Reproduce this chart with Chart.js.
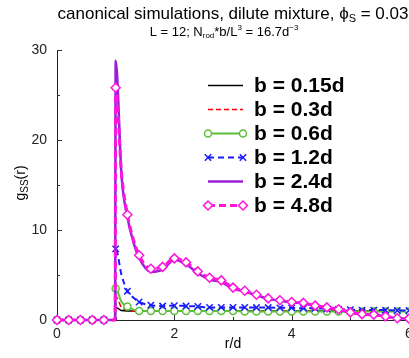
<!DOCTYPE html>
<html>
<head>
<meta charset="utf-8">
<script src="https://cdn.jsdelivr.net/npm/chart.js@4/dist/chart.umd.min.js"></script>
<style>
html,body{margin:0;padding:0;background:#fff;overflow:hidden;}
#wrap{width:409px;height:358px;position:relative;}
</style>
</head>
<body>
<div id="wrap"><canvas id="c" width="409" height="358"></canvas></div>
<script>
// ---- data ----
const r = [0, 0.2, 0.4, 0.6, 0.8, 0.99, 1.0, 1.1, 1.2, 1.3, 1.4, 1.6, 1.8, 2.0, 2.2, 2.4, 2.6, 2.8, 3.0, 3.2, 3.4, 3.6, 3.8, 4.0, 4.2, 4.4, 4.6, 4.8, 5.0, 5.2, 5.4, 5.6, 5.8, 6.0];
const g015 = [0, 0, 0, 0, 0, 0, 1.4, 1.05, 1.0, 1.0, 1.0, 1.0, 1.0, 1.0, 1.0, 1.0, 1.0, 1.0, 1.0, 1.0, 1.0, 1.0, 1.0, 1.0, 1.0, 1.0, 1.0, 1.0, 1.0, 1.0, 1.0, 1.0, 1.0, 1.0];
const g03  = [0, 0, 0, 0, 0, 0, 2.6, 1.4, 1.1, 1.0, 1.0, 1.0, 1.0, 1.0, 1.0, 1.0, 1.0, 1.0, 1.0, 1.0, 1.0, 1.0, 1.0, 1.0, 1.0, 1.0, 1.0, 1.0, 1.0, 1.0, 1.0, 1.0, 1.0, 1.0];
const g06  = [0, 0, 0, 0, 0, 0, 3.5, 2.0, 1.5, 1.15, 1.0, 1.0, 1.0, 1.0, 1.0, 1.0, 1.0, 1.0, 1.0, 0.95, 0.95, 0.95, 0.95, 0.95, 0.95, 0.95, 0.95, 0.95, 0.95, 0.95, 0.95, 0.95, 0.95, 0.95];
const g12  = [0, 0, 0, 0, 0, 0, 7.9, 5.0, 3.2, 2.5, 2.0, 1.65, 1.55, 1.6, 1.55, 1.5, 1.4, 1.4, 1.4, 1.4, 1.38, 1.38, 1.35, 1.35, 1.3, 1.3, 1.25, 1.2, 1.15, 1.1, 1.1, 1.1, 1.05, 1.05];
const g24  = [0, 0, 0, 0, 0, 0, 28.8, 16.0, 11.4, 8.7, 6.9, 5.35, 5.6, 6.7, 6.2, 5.2, 4.5, 4.2, 3.5, 3.15, 2.75, 2.35, 2.15, 1.95, 1.85, 1.55, 1.35, 1.15, 0.85, 0.65, 0.55, 0.4, 0.2, 0.15];
const g48  = [0, 0, 0, 0, 0, 0, 25.8, 16.3, 11.7, 9.0, 7.2, 5.7, 5.9, 6.85, 6.4, 5.4, 4.7, 4.4, 3.6, 3.25, 2.8, 2.4, 2.2, 2.0, 1.9, 1.6, 1.4, 1.2, 0.85, 0.65, 0.6, 0.4, 0.2, 0.15];
const markerAt = [1, 1, 1, 1, 1, 0, 1, 0, 1, 0, 1, 1, 1, 1, 1, 1, 1, 1, 1, 1, 1, 1, 1, 1, 1, 1, 1, 1, 1, 1, 1, 1, 1, 1];
const seriesLabels = ["b = 0.15d", "b = 0.3d", "b = 0.6d", "b = 1.2d", "b = 2.4d", "b = 4.8d"];
const xTickValues = [0, 2, 4, 6];
const yTickValues = [0, 10, 20, 30];

const FONT = '"Liberation Sans", Arial, Helvetica, sans-serif';

function pts(arr){ return r.map((x,i)=>({x:x, y:arr[i]})); }
function radii(rad){ return markerAt.map(m => m ? rad : 0); }

const styles = [
  {color:'#000000', width:1.5, dash:[], style:false, rad:0},
  {color:'#ff0000', width:1.5, dash:[5,3], style:false, rad:0},
  {color:'#5cbf3a', width:2, dash:[], style:'circle', rad:3.5},
  {color:'#1a1aff', width:2, dash:[6,4], style:'crossRot', rad:4.5},
  {color:'#9a1fd6', width:2.5, dash:[], style:false, rad:0},
  {color:'#ff14dc', width:3, dash:[7,4], style:'rectRot', rad:4.5}
];
const seriesData = [g015, g03, g06, g12, g24, g48];

const datasets = seriesData.map((arr,i)=>{
  const s = styles[i];
  return {
    label: seriesLabels[i],
    data: pts(arr),
    borderColor: s.color,
    borderWidth: s.width,
    borderDash: s.dash,
    backgroundColor: '#ffffff',
    pointStyle: s.style || 'circle',
    pointRadius: s.style ? radii(s.rad) : 0,
    pointBorderColor: s.color,
    pointBackgroundColor: '#ffffff',
    pointBorderWidth: 1.5,
    cubicInterpolationMode: 'monotone',
    fill: false,
    clip: 8,
    order: 5 - i
  };
});

function drawRich(ctx, parts, x, y, align){
  let w = 0;
  parts.forEach(p=>{ ctx.font = (p.bold?'bold ':'') + p.size + 'px ' + FONT; w += ctx.measureText(p.t).width; });
  let cx = align === 'center' ? x - w/2 : x;
  ctx.textBaseline = 'alphabetic';
  ctx.textAlign = 'left';
  parts.forEach(p=>{
    ctx.font = (p.bold?'bold ':'') + p.size + 'px ' + FONT;
    ctx.fillText(p.t, cx, y + (p.dy||0));
    cx += ctx.measureText(p.t).width;
  });
}

function drawMarker(ctx, style, x, y, rad, color){
  ctx.save();
  ctx.setLineDash([]);
  ctx.lineWidth = 1.5;
  ctx.strokeStyle = color;
  ctx.fillStyle = '#ffffff';
  ctx.beginPath();
  if (style === 'circle') {
    ctx.arc(x, y, rad, 0, Math.PI*2);
    ctx.fill(); ctx.stroke();
  } else if (style === 'rectRot') {
    ctx.moveTo(x, y-rad); ctx.lineTo(x+rad, y); ctx.lineTo(x, y+rad); ctx.lineTo(x-rad, y); ctx.closePath();
    ctx.fill(); ctx.stroke();
  } else if (style === 'crossRot') {
    const d = rad*Math.SQRT1_2;
    ctx.moveTo(x-d, y-d); ctx.lineTo(x+d, y+d);
    ctx.moveTo(x+d, y-d); ctx.lineTo(x-d, y+d);
    ctx.stroke();
  }
  ctx.restore();
}

const decor = {
  id: 'decor',
  beforeDatasetsDraw(chart){
    const ctx = chart.ctx, xs = chart.scales.x, ys = chart.scales.y;
    const a = chart.chartArea;
    ctx.save();
    ctx.strokeStyle = '#333';
    ctx.lineWidth = 1;
    ctx.setLineDash([]);
    const xt = xs.ticks.map(t=>t.value);
    xt.forEach((v,i)=>{
      const px = Math.round(xs.getPixelForValue(v)) + 0.5;
      ctx.beginPath(); ctx.moveTo(px, a.bottom); ctx.lineTo(px, a.bottom-5); ctx.stroke();
      if (i < xt.length-1) {
        const pm = Math.round(xs.getPixelForValue((v + xt[i+1])/2)) + 0.5;
        ctx.beginPath(); ctx.moveTo(pm, a.bottom); ctx.lineTo(pm, a.bottom-3); ctx.stroke();
      }
    });
    const yt = ys.ticks.map(t=>t.value);
    yt.forEach((v,i)=>{
      const py = Math.round(ys.getPixelForValue(v)) + 0.5;
      ctx.beginPath(); ctx.moveTo(a.left, py); ctx.lineTo(a.left+5, py); ctx.stroke();
      if (i < yt.length-1) {
        const pm = Math.round(ys.getPixelForValue((v + yt[i+1])/2)) + 0.5;
        ctx.beginPath(); ctx.moveTo(a.left, pm); ctx.lineTo(a.left+3, pm); ctx.stroke();
      }
    });
    ctx.restore();
  },
  afterDraw(chart){
    const ctx = chart.ctx;
    ctx.save();
    ctx.fillStyle = '#000';
    // title
    drawRich(ctx, [
      {t:'canonical simulations, dilute mixture, \u03D5', size:17},
      {t:'S', size:11, dy:3},
      {t:' = 0.03', size:17}
    ], 233, 19, 'center');
    drawRich(ctx, [
      {t:'L = 12; N', size:13},
      {t:'rod', size:8, dy:2},
      {t:'*b/L', size:13},
      {t:'3', size:8, dy:-6},
      {t:' = 16.7d', size:13},
      {t:'\u22123', size:8, dy:-6}
    ], 224, 36, 'center');
    // x title
    ctx.font = '14px ' + FONT;
    ctx.textAlign = 'center';
    ctx.textBaseline = 'middle';
    ctx.fillText('r/d', 233, 344);
    // y title (rotated)
    ctx.save();
    ctx.translate(25, 183);
    ctx.rotate(-Math.PI/2);
    ctx.fillStyle = '#000';
    let parts = [{t:'g', size:14},{t:'SS', size:10, dy:3},{t:'(r)', size:14}];
    drawRich(ctx, parts, 0, 0, 'center');
    ctx.restore();
    // legend
    chart.data.datasets.forEach((ds,i)=>{
      const s = styles[i];
      const y = 85 + 24*i;
      const x1 = 208, x2 = 243;
      ctx.save();
      ctx.strokeStyle = s.color;
      ctx.lineWidth = s.width;
      ctx.setLineDash(s.dash);
      ctx.beginPath(); ctx.moveTo(x1, y+0.5); ctx.lineTo(x2, y+0.5); ctx.stroke();
      ctx.restore();
      if (s.style) { drawMarker(ctx, s.style, x1, y+0.5, s.rad, s.color); drawMarker(ctx, s.style, x2, y+0.5, s.rad, s.color); }
      ctx.fillStyle = '#000';
      ctx.font = 'bold 21px ' + FONT;
      ctx.textAlign = 'left';
      ctx.textBaseline = 'middle';
      ctx.fillText(ds.label, 254, y+1);
    });
    ctx.restore();
  }
};

new Chart(document.getElementById('c'), {
  type: 'line',
  data: { datasets: datasets },
  options: {
    responsive: false,
    animation: false,
    devicePixelRatio: 1,
    layout: { autoPadding: false, padding: { top: 50, right: 0, bottom: 0, left: 0 } },
    plugins: { legend: { display: false }, tooltip: { enabled: false }, title: { display: false } },
    scales: {
      x: {
        type: 'linear', min: 0, max: 6,
        afterBuildTicks: s => { s.ticks = xTickValues.map(v=>({value:v})); },
        ticks: { font: { size: 14, family: FONT }, color: '#222', padding: 6, maxRotation: 0, autoSkip: false },
        grid: { display: false, drawTicks: false, tickLength: 0 },
        border: { display: true, color: '#222', width: 1 },
        afterFit: s => { s.height = 38; s.paddingLeft = 0; s.paddingRight = 0; }
      },
      y: {
        type: 'linear', min: 0, max: 30,
        afterBuildTicks: s => { s.ticks = yTickValues.map(v=>({value:v})); },
        ticks: { font: { size: 14, family: FONT }, color: '#222', padding: 10 },
        grid: { display: false, drawTicks: false, tickLength: 0 },
        border: { display: true, color: '#222', width: 1 },
        afterFit: s => { s.width = 57; s.paddingTop = 0; s.paddingBottom = 0; }
      }
    }
  },
  plugins: [decor]
});
</script>
</body>
</html>
